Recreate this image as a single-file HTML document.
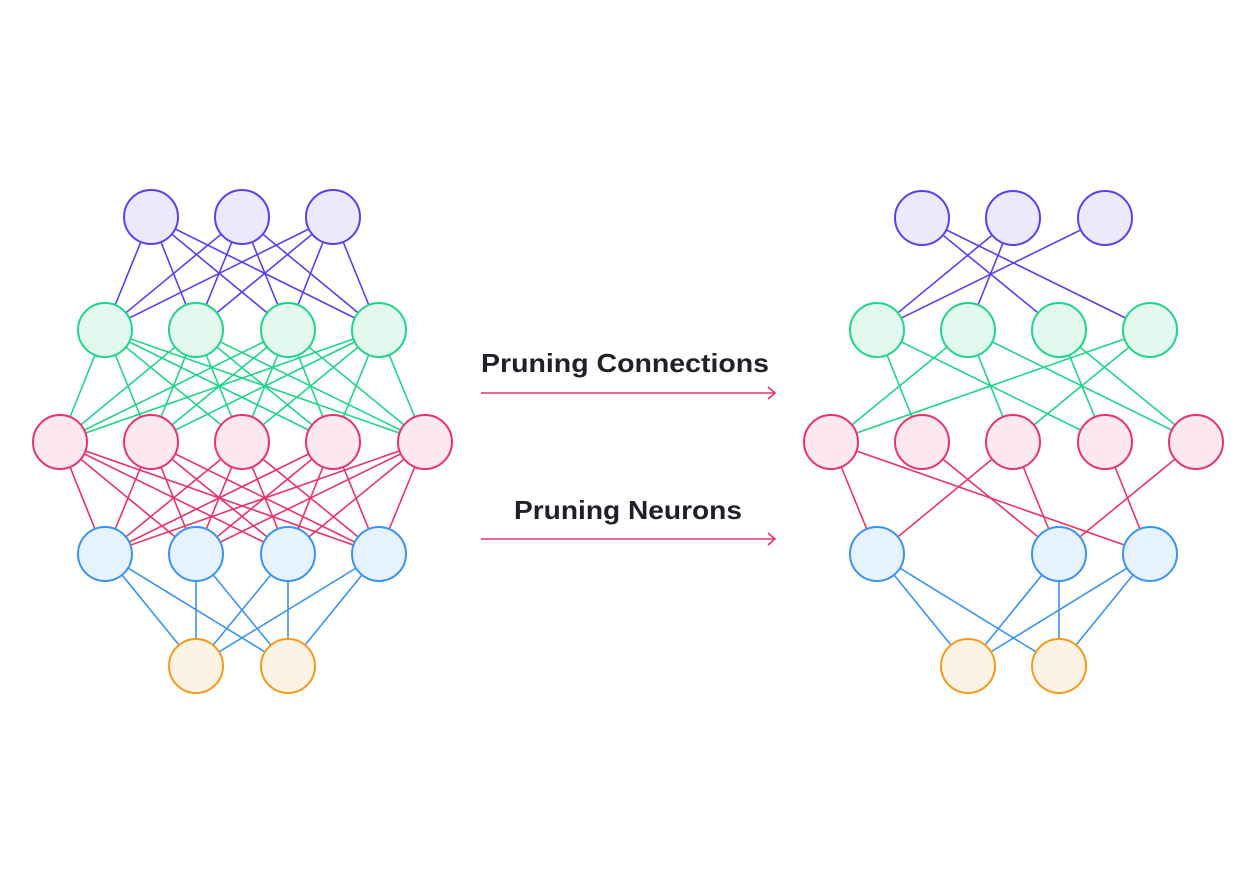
<!DOCTYPE html>
<html><head><meta charset="utf-8"><style>
html,body{margin:0;padding:0;background:#fff;width:1256px;height:884px;overflow:hidden}
svg{display:block}
</style></head><body>
<svg id="s" width="1256" height="884" viewBox="0 0 1256 884" xmlns="http://www.w3.org/2000/svg">
<g id="edges" stroke-width="1.6" fill="none"></g>
<g id="nodes" stroke-width="2"></g>
<text x="481" y="372" font-family="Liberation Sans, sans-serif" font-weight="bold" font-size="26" fill="#1f2128" textLength="288" lengthAdjust="spacingAndGlyphs">Pruning Connections</text>
<line x1="481" y1="393" x2="775" y2="393" stroke="#e8336b" stroke-width="1.6"/>
<polyline points="768,387 775,393 768,399" fill="none" stroke="#e8336b" stroke-width="1.6"/>
<text x="514" y="519" font-family="Liberation Sans, sans-serif" font-weight="bold" font-size="26" fill="#1f2128" textLength="228" lengthAdjust="spacingAndGlyphs">Pruning Neurons</text>
<line x1="481" y1="539" x2="775" y2="539" stroke="#e8336b" stroke-width="1.6"/>
<polyline points="768,533 775,539 768,545" fill="none" stroke="#e8336b" stroke-width="1.6"/>
</svg>
<script>
var NS="http://www.w3.org/2000/svg";
var C={p:["#5b3ff0","#ece9fd"],g:["#1fd58b","#e3f9ef"],k:["#e8336b","#fce8ee"],b:["#3b93f0","#e6f2fe"],o:["#f59a1a","#fdf3e4"]};
function ln(a,b,c){var l=document.createElementNS(NS,"line");l.setAttribute("x1",a[0]);l.setAttribute("y1",a[1]);l.setAttribute("x2",b[0]);l.setAttribute("y2",b[1]);l.setAttribute("stroke",c);document.getElementById("edges").appendChild(l);}
function ci(p,k){var c=document.createElementNS(NS,"circle");c.setAttribute("cx",p[0]);c.setAttribute("cy",p[1]);c.setAttribute("r",27);c.setAttribute("stroke",C[k][0]);c.setAttribute("fill",C[k][1]);document.getElementById("nodes").appendChild(c);}
function L(xs,y){return xs.map(function(x){return [x,y]});}
// left
var P=L([151,242,333],217),G=L([105,196,288,379],330),K=L([60,151,242,333,425],442),B=L([105,196,288,379],554),O=L([196,288],666);
function full(A,Bs,c){A.forEach(function(a){Bs.forEach(function(b){ln(a,b,c)})})}
full(P,G,C.p[0]);full(G,K,C.g[0]);full(K,B,C.k[0]);full(B,O,C.b[0]);
// right
var P2=L([922,1013,1105],218),G2=L([877,968,1059,1150],330),K2=L([831,922,1013,1105,1196],442),B2=L([877,968,1059,1150],554),O2=L([968,1059],666);
function some(A,Bs,pairs,c){pairs.forEach(function(q){ln(A[q[0]],Bs[q[1]],c)})}
some(P2,G2,[[0,2],[0,3],[1,0],[1,1],[2,0]],C.p[0]);
some(G2,K2,[[0,1],[0,3],[1,0],[1,2],[1,4],[2,3],[2,4],[3,0],[3,2]],C.g[0]);
some(K2,B2,[[0,0],[0,3],[1,2],[2,0],[2,2],[3,3],[4,2]],C.k[0]);
some(B2,O2,[[0,0],[0,1],[2,0],[2,1],[3,0],[3,1]],C.b[0]);
[[P,"p"],[G,"g"],[K,"k"],[B,"b"],[O,"o"],[P2,"p"],[G2,"g"],[K2,"k"],[[B2[0],B2[2],B2[3]],"b"],[O2,"o"]].forEach(function(a){a[0].forEach(function(p){ci(p,a[1])})});
</script>
</body></html>
